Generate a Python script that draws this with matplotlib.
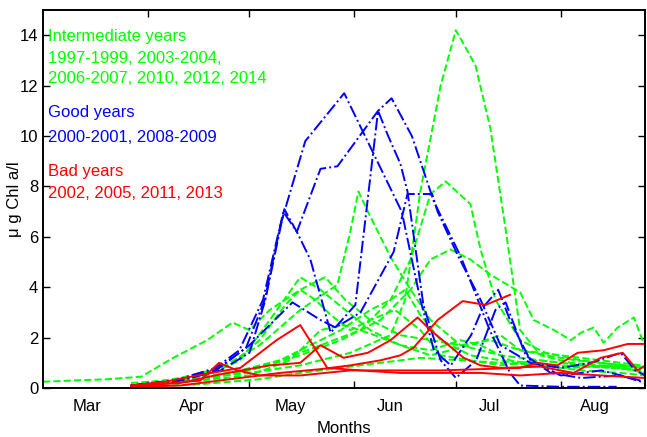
import matplotlib
matplotlib.use('Agg')
import matplotlib.pyplot as plt

plt.rcParams['font.family'] = ['Liberation Sans', 'DejaVu Sans']

## data: day of year and chlorophyll (ug Chl a/l)
# intermediate years (green, dashed)
g1_day = [86, 106.5, 121, 136, 150.8, 162.7, 167, 171.5, 177.5, 182, 187.8, 192.2, 196.7, 201, 207, 216, 224.8, 236.6]
g1_val = [0.2, 0.4, 0.6, 0.9, 1.4, 2.1, 3.5, 7.8, 12.0, 14.2, 12.8, 10.3, 6.3, 2.3, 1.3, 1.0, 0.9, 0.8]
g2_day = [86, 100.5, 115.3, 130, 142, 153.8, 162.7, 168.6, 174.5, 179, 186.3, 189.3, 193.7, 201, 208.5, 219, 230.7, 238]
g2_val = [0.1, 0.3, 0.6, 1.1, 1.7, 2.3, 3.5, 5.1, 7.7, 8.2, 7.3, 5.5, 3.5, 1.9, 1.4, 1.1, 0.9, 0.8]
g3_day = [86, 100.5, 112.5, 124, 136, 147, 150.8, 153.2, 156, 162.7, 167.7, 174.5, 183.4, 195.2, 207, 219, 236.6]
g3_val = [0.1, 0.4, 0.8, 1.7, 3.1, 4.1, 6.2, 7.8, 7.0, 5.2, 4.1, 2.7, 1.7, 1.3, 1.1, 0.9, 0.7]
g4_day = [60, 69, 79, 89, 98.5, 108.5, 116, 121, 127, 136, 143.4, 149.3, 156.7, 165.6, 174.5, 183.4, 192.2, 201, 213, 224.8, 236.6]
g4_val = [0.25, 0.3, 0.35, 0.45, 1.2, 1.9, 2.6, 2.3, 3.1, 3.9, 4.4, 3.5, 2.7, 2.1, 1.9, 1.7, 1.9, 1.5, 1.3, 1.1, 0.9]
g5_day = [86, 106.5, 118.3, 127, 136, 142, 149.3, 156.7, 165.6, 174.5, 186.3, 195.2, 201, 208.5, 217.4, 224.8, 232.2, 238]
g5_val = [0.1, 0.4, 1.1, 2.7, 4.4, 3.9, 3.1, 2.3, 1.7, 1.3, 1.7, 2.1, 1.5, 1.3, 1.1, 1.0, 0.9, 0.8]
g6_day = [86, 106.5, 124, 136, 148, 159.7, 168.6, 174.5, 180.4, 186.3, 192.2, 201, 205, 211, 216, 219, 222.7, 225.7, 229.8, 234.6, 238]
g6_val = [0.1, 0.4, 0.8, 1.3, 1.9, 2.7, 3.9, 5.1, 5.5, 5.1, 4.5, 3.8, 2.7, 2.3, 1.9, 2.2, 2.4, 1.8, 2.4, 2.8, 1.6]
g7_day = [86, 106.5, 121, 130, 139, 148, 156.7, 162.7, 167, 171.5, 177.5, 186.3, 195.2, 204, 216, 227.8, 238]
g7_val = [0.1, 0.3, 0.7, 1.1, 1.7, 2.3, 3.1, 3.5, 3.9, 2.9, 1.9, 1.3, 1.1, 0.9, 0.8, 0.9, 0.6]
g8_day = [86, 103.5, 115.3, 124, 131.6, 136, 140.5, 145, 150.8, 156.7, 164, 171.5, 177.5, 186.3, 195.2, 207, 219, 230.7, 238]
g8_val = [0.1, 0.4, 0.9, 1.9, 3.3, 3.9, 3.5, 2.9, 2.3, 2.7, 3.1, 2.3, 1.3, 1.1, 0.9, 1.1, 0.9, 0.8, 0.6]
g9_day = [86, 106.5, 121, 133, 142, 149, 158, 165.6, 174.5, 183.4, 189.3, 198, 207, 219, 230.7, 238]
g9_val = [0.1, 0.3, 0.5, 1.1, 2.3, 2.5, 2.1, 1.7, 1.5, 1.9, 1.7, 1.1, 0.9, 0.7, 0.6, 0.5]
g10_day = [86, 106.5, 124, 136, 148, 159.7, 171.5, 183.4, 195.2, 207, 219, 230.7, 238]
g10_val = [0.05, 0.15, 0.35, 0.6, 0.8, 1.0, 1.2, 1.1, 1.0, 0.9, 0.85, 0.8, 0.7]

# good years (blue, dash-dot)
b1_day = [86, 99, 111, 118, 125, 130, 137.5, 149, 166, 171.5, 175.5, 180.5, 186.5, 190, 194.5, 198, 204, 213, 225, 236.5]
b1_val = [0.1, 0.3, 0.8, 1.5, 3.5, 6.4, 9.8, 11.7, 7.0, 3.5, 1.5, 0.9, 2.1, 3.2, 3.9, 2.7, 1.1, 0.5, 0.7, 0.3]
b2_day = [86, 99, 111, 120, 125.5, 131, 135, 142, 147, 159, 163, 169, 175.5, 183.5, 192, 198, 201, 213, 229.5]
b2_val = [0.1, 0.3, 0.7, 1.6, 3.5, 7.0, 6.2, 8.7, 8.8, 11.0, 11.5, 10.0, 7.4, 5.2, 2.3, 0.6, 0.1, 0.05, 0.05]
b3_day = [86, 100.5, 112.5, 121, 125.7, 131.3, 135, 139, 145, 152.3, 159, 162, 165.6, 167.7, 172.4, 177.5, 182, 188, 193.7, 196.7, 202.6, 210, 219, 230.7, 238]
b3_val = [0.1, 0.3, 0.7, 1.4, 3.5, 7.1, 6.2, 5.1, 2.2, 3.3, 11.0, 10.0, 8.9, 7.8, 3.3, 1.1, 0.4, 1.1, 3.1, 3.4, 1.3, 0.6, 0.4, 0.5, 0.2]
b4_day = [86, 100.5, 111, 121, 133.7, 142, 146.5, 153.8, 163.6, 167.7, 175, 176.6, 182.8, 189.3, 195.2, 204, 213, 222, 230.7, 235, 238]
b4_val = [0.1, 0.3, 0.7, 1.7, 3.4, 2.7, 2.4, 3.0, 5.4, 7.7, 7.7, 7.0, 5.2, 3.5, 1.7, 1.0, 0.8, 1.0, 1.4, 0.7, 0.5]

# bad years (red, solid)
r1_day = [86, 96, 105.6, 118.3, 129, 136, 144, 153.8, 165.6, 177.5, 189.3, 201, 213, 224.8, 238]
r1_val = [0.1, 0.25, 0.5, 0.8, 1.9, 2.5, 0.8, 0.7, 0.6, 0.6, 0.6, 0.5, 0.6, 0.5, 0.4]
r2_day = [86, 100.5, 112.5, 127, 136, 142, 148.8, 156, 162.7, 170.7, 174.5, 184.3, 189.3, 195.2, 207, 216.8, 224.8, 231.3, 235.7, 238]
r2_val = [0.1, 0.2, 0.55, 0.9, 1.0, 1.7, 1.2, 1.4, 1.9, 2.8, 2.3, 1.2, 0.9, 0.8, 0.85, 0.6, 1.2, 1.4, 0.7, 0.9]
r3_day = [86, 100.5, 115.3, 130, 142, 150.8, 159.7, 165.6, 169.5, 176.6, 184, 190.8, 198]
r3_val = [0.05, 0.1, 0.35, 0.6, 0.75, 0.9, 1.1, 1.3, 1.6, 2.7, 3.45, 3.3, 3.7]
r4_day = [86, 106.5, 112, 117.4, 124, 136, 150.8, 165.6, 177.5, 189.3, 201, 206.2, 212, 218, 225.7, 232.8, 238]
r4_val = [0.05, 0.3, 1.0, 0.7, 0.5, 0.5, 0.7, 0.7, 0.7, 0.75, 0.8, 1.0, 0.9, 1.4, 1.5, 1.75, 1.75]

green_lines = [(g1_day, g1_val), (g2_day, g2_val), (g3_day, g3_val), (g4_day, g4_val), (g5_day, g5_val),
               (g6_day, g6_val), (g7_day, g7_val), (g8_day, g8_val), (g9_day, g9_val), (g10_day, g10_val)]
blue_lines = [(b1_day, b1_val), (b2_day, b2_val), (b3_day, b3_val), (b4_day, b4_val)]
red_lines = [(r1_day, r1_val), (r2_day, r2_val), (r3_day, r3_val), (r4_day, r4_val)]

month_starts = [91, 121, 152, 182, 213]
month_names = ['Mar', 'Apr', 'May', 'Jun', 'Jul', 'Aug']
month_label_pos = [73, 104, 133, 162.5, 192, 223]

legend_lines = [
    ('Intermediate years', 'lime'),
    ('1997-1999, 2003-2004,', 'lime'),
    ('2006-2007, 2010, 2012, 2014', 'lime'),
    ('Good years', 'blue'),
    ('2000-2001, 2008-2009', 'blue'),
    ('Bad years', 'red'),
    ('2002, 2005, 2011, 2013', 'red'),
]
legend_y = [0.929, 0.873, 0.820, 0.728, 0.664, 0.574, 0.516]

## plot
fig = plt.figure(figsize=(6.47, 4.37), dpi=100)
ax = fig.add_axes([0.0665, 0.112, 0.931, 0.865])

for d, v in green_lines:
    ax.plot(d, v, color='lime', linestyle='--', linewidth=1.4)
for d, v in blue_lines:
    ax.plot(d, v, color='blue', linestyle='-.', linewidth=1.4)
for d, v in red_lines:
    ax.plot(d, v, color='red', linestyle='-', linewidth=1.4)

for (txt, col), yy in zip(legend_lines, legend_y):
    ax.text(0.008, yy, txt, color=col, fontsize=12, va='center', ha='left', transform=ax.transAxes)

ax.set_xlim(60, 238)
ax.set_ylim(0, 15)
ax.set_xticks(month_starts)
ax.set_xticklabels([])
ax.set_xticks(month_label_pos, minor=True)
ax.set_xticklabels(month_names, minor=True)
ax.set_yticks(range(0, 15, 2))
ax.tick_params(axis='both', which='major', direction='in', top=True, right=True, length=5, width=1, labelsize=12)
ax.tick_params(axis='x', which='minor', length=0, labelsize=12, pad=8)
for s in ax.spines.values():
    s.set_linewidth(1.4)

ax.set_xlabel('Months', fontsize=12)
ax.xaxis.set_label_coords(0.5, -0.088)
ax.set_ylabel('μ g Chl a/l', fontsize=12)
ax.yaxis.set_label_coords(-0.035, 0.5)

plt.savefig('out.png', dpi=100)
